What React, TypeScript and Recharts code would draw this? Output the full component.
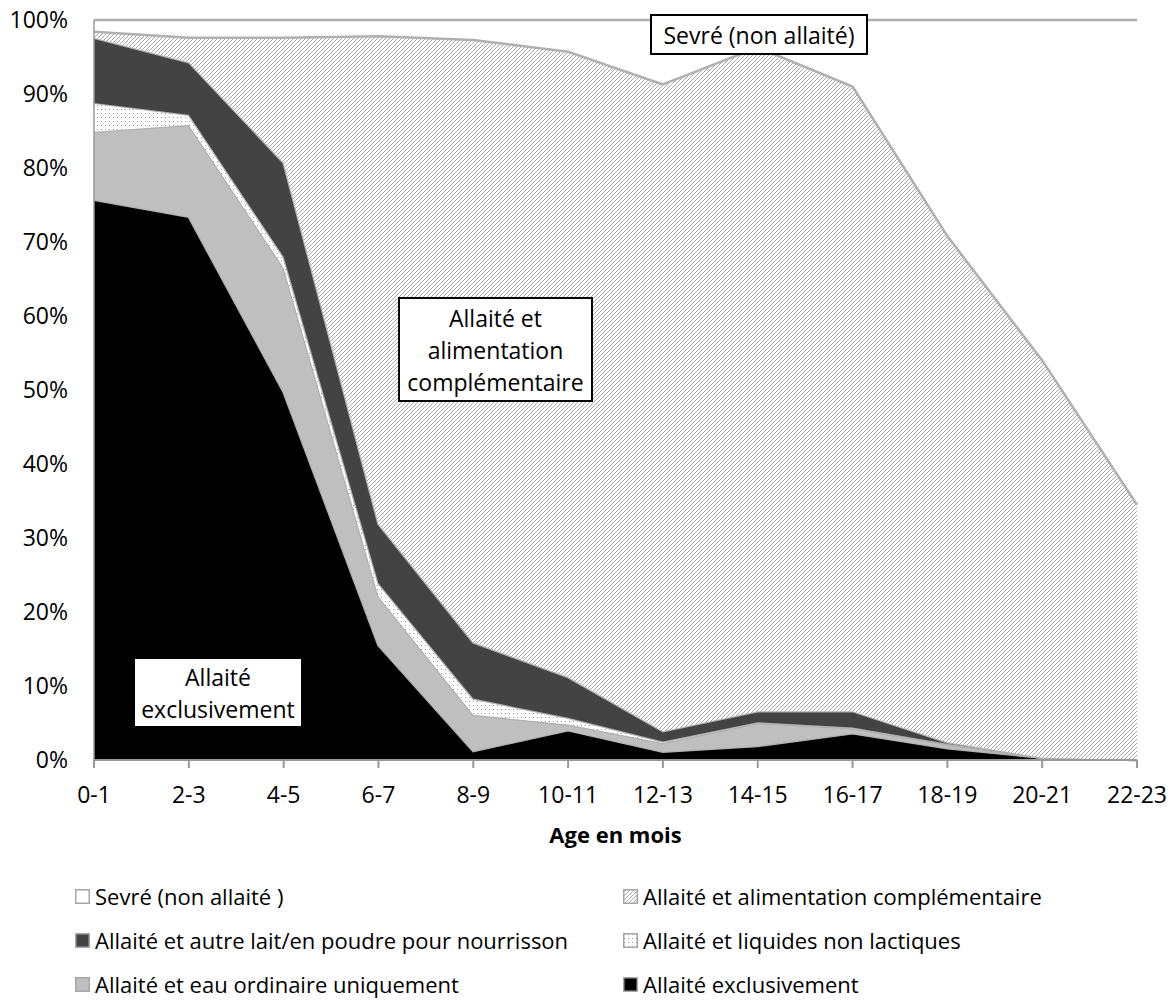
import React from "react";
import { AreaChart, Area, XAxis, YAxis, Label } from "recharts";

const ages = ["0-1", "2-3", "4-5", "6-7", "8-9", "10-11", "12-13", "14-15", "16-17", "18-19", "20-21", "22-23"];

// parts in % of children, stacked from bottom to top
const exclusif = [75.7, 73.4, 49.7, 15.5, 1.2, 4.0, 1.1, 1.9, 3.6, 1.6, 0.3, 0];
const eauOrdinaire = [9.2, 12.4, 16.8, 6.6, 4.9, 0.8, 1.2, 3.1, 0.7, 0.5, 0, 0];
const liquidesNonLactiques = [3.9, 1.4, 1.5, 1.8, 2.2, 0.9, 0.2, 0.1, 0.1, 0.1, 0, 0];
const autreLait = [8.8, 7.1, 12.7, 8.0, 7.6, 5.5, 1.4, 1.5, 2.2, 0.2, 0, 0];
const alimComplementaire = [0.8, 3.3, 16.9, 65.9, 81.4, 84.5, 87.4, 89.7, 84.4, 68.4, 53.7, 34.5];
const sevre = [1.6, 2.4, 2.4, 2.2, 2.7, 4.3, 8.7, 3.7, 9.0, 29.2, 46.0, 65.5];

const yTicks = [0, 10, 20, 30, 40, 50, 60, 70, 80, 90, 100];

const data = ages.map((age, i) => ({
  age,
  exclusif: exclusif[i],
  eau: eauOrdinaire[i],
  liquides: liquidesNonLactiques[i],
  autreLait: autreLait[i],
  complementaire: alimComplementaire[i],
  sevre: sevre[i],
}));

// sevré sits on the white page, so its area is left unfilled (keeps the edge below it visible)
const series = [
  { key: "exclusif", name: "Allaité exclusivement", fill: "#000000", swatch: "#000000" },
  { key: "eau", name: "Allaité et eau ordinaire uniquement", fill: "#BFBFBF", swatch: "#BFBFBF" },
  { key: "liquides", name: "Allaité et liquides non lactiques", fill: "url(#dots)", swatch: "url(#dots)" },
  { key: "autreLait", name: "Allaité et autre lait/en poudre pour nourrisson", fill: "#434343", swatch: "#434343" },
  { key: "complementaire", name: "Allaité et alimentation complémentaire", fill: "url(#hatch)", swatch: "url(#hatch)" },
  { key: "sevre", name: "Sevré (non allaité )", fill: "none", swatch: "#FFFFFF" },
];

// legend reads top-down, two columns
const legendOrder = ["sevre", "complementaire", "autreLait", "liquides", "eau", "exclusif"];

const FONT = '"Open Sans", sans-serif';
const EDGE = "#B0B0B0";

function Patterns() {
  return (
    <defs>
      <pattern id="hatch" width="4" height="4" patternUnits="userSpaceOnUse">
        <rect width="4" height="4" fill="#fff" />
        <path d="M-1,1 l2,-2 M0,4 l4,-4 M3,5 l2,-2" stroke="#A8A8A8" strokeWidth="1" />
      </pattern>
      <pattern id="dots" width="4" height="4" patternUnits="userSpaceOnUse">
        <rect width="4" height="4" fill="#fff" />
        <rect x="1" y="1" width="1" height="1" fill="#9C9C9C" />
      </pattern>
    </defs>
  );
}

function Swatch({ fill }: { fill: string }) {
  return (
    <svg width={15} height={15} style={{ display: "block" }}>
      <Patterns />
      <rect x={0.75} y={0.75} width={13.5} height={13.5} fill={fill} stroke="#A6A6A6" strokeWidth={1.5} />
    </svg>
  );
}

const boxStyle: React.CSSProperties = {
  position: "absolute",
  boxSizing: "border-box",
  background: "#fff",
  border: "2px solid #000",
  fontSize: 23,
  lineHeight: "32px",
  textAlign: "center",
  display: "flex",
  flexDirection: "column",
  justifyContent: "center",
  color: "#000",
};

export default function App() {
  return (
    <div style={{ position: "absolute", left: 0, top: 0, width: 1170, height: 1000, background: "#fff", fontFamily: FONT }}>
      <AreaChart width={1170} height={860} data={data} margin={{ top: 20, right: 33, left: 10, bottom: 10 }}>
        <Patterns />
        <XAxis
          dataKey="age"
          height={90}
          tick={{ fontSize: 23, fill: "#000", fontFamily: FONT }}
          tickSize={8}
          tickMargin={19}
          tickLine={{ stroke: "#999", strokeWidth: 2 }}
          axisLine={{ stroke: "#999", strokeWidth: 2 }}
          interval={0}
        >
          <Label value="Age en mois" position="insideBottom" offset={7} style={{ fontSize: 22, fontWeight: 700, fill: "#000", fontFamily: FONT }} />
        </XAxis>
        <YAxis
          domain={[0, 100]}
          ticks={yTicks}
          width={84}
          tickFormatter={(v: number) => `${v}%`}
          tick={{ fontSize: 23, fill: "#000", fontFamily: FONT }}
          tickLine={false}
          tickSize={0}
          tickMargin={26}
          axisLine={{ stroke: "#999", strokeWidth: 1.5 }}
          interval={0}
        />
        <YAxis yAxisId="edge" orientation="right" width={0} tick={false} tickLine={false} axisLine={{ stroke: EDGE, strokeWidth: 2 }} />
        {series.map((s) => (
          <Area
            key={s.key}
            type="linear"
            dataKey={s.key}
            name={s.name}
            stackId="1"
            fill={s.fill}
            fillOpacity={1}
            stroke={EDGE}
            strokeWidth={2.5}
            dot={false}
            activeDot={false}
            isAnimationActive={false}
          />
        ))}
      </AreaChart>

      <div style={{ ...boxStyle, left: 650, top: 14, width: 218, height: 41 }}>Sevré (non allaité)</div>
      <div style={{ ...boxStyle, left: 398, top: 297, width: 195, height: 105 }}>
        <div>Allaité et</div>
        <div>alimentation</div>
        <div>complémentaire</div>
      </div>
      <div style={{ ...boxStyle, left: 133, top: 657, width: 170, height: 71 }}>
        <div>Allaité</div>
        <div>exclusivement</div>
      </div>

      {legendOrder.map((key, i) => {
        const s = series.find((x) => x.key === key)!;
        const col = i % 2;
        const row = Math.floor(i / 2);
        return (
          <div
            key={key}
            style={{
              position: "absolute",
              left: col === 0 ? 75 : 623,
              top: 879 + row * 44,
              height: 34,
              display: "flex",
              alignItems: "center",
              fontSize: 22,
              color: "#000",
              whiteSpace: "nowrap",
            }}
          >
            <Swatch fill={s.swatch} />
            <span style={{ marginLeft: 5 }}>{s.name}</span>
          </div>
        );
      })}
    </div>
  );
}
